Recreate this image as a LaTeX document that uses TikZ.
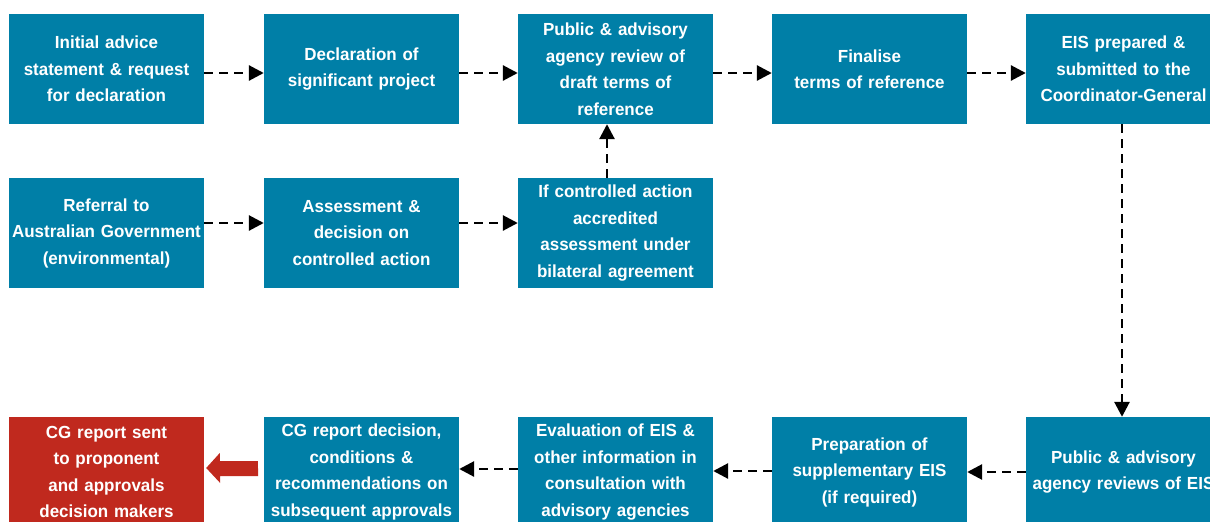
\documentclass[tikz,border=0pt]{standalone}
\usepackage{fontspec}
\setmainfont{Liberation Sans}[FakeStretch=0.97]
\usetikzlibrary{arrows.meta,calc}
\definecolor{boxblue}{RGB}{0,127,167}
\definecolor{boxred}{RGB}{192,41,30}
\begin{document}
\begin{tikzpicture}[x=1pt,y=-1pt,
  box/.style={fill=boxblue, minimum width=195pt, minimum height=110pt, inner sep=0pt,
    text width=195pt, align=center, text=white,
    font=\bfseries\fontsize{17.5}{26.5}\selectfont},
  flow/.style={line width=2.8pt, dash pattern=on 9pt off 6pt,
    -{Triangle[length=15pt,width=15pt]}, black}
]
\useasboundingbox (0,0) rectangle (1210,522);
% row 1
\node[box] (a1) at (106.5,69) {Initial advice\\statement \& request\\for declaration};
\node[box] (a2) at (361.5,69) {Declaration of\\significant project};
\node[box] (a3) at (615.5,69) {Public \& advisory\\agency review of\\draft terms of\\reference};
\node[box] (a4) at (869.5,69) {Finalise\\terms of reference};
\node[box] (a5) at (1123.5,69) {EIS prepared \&\\submitted to the\\Coordinator-General};
% row 2
\node[box] (b1) at (106.5,233) {Referral to\\Australian Government\\(environmental)};
\node[box] (b2) at (361.5,233) {Assessment \&\\decision on\\controlled action};
\node[box] (b3) at (615.5,233) {If controlled action\\accredited\\assessment under\\bilateral agreement};
% row 3
\node[box, fill=boxred] (c1) at (106.5,472) {CG report sent\\to proponent\\and approvals\\decision makers};
\node[box] (c2) at (361.5,472) {CG report decision,\\conditions \&\\recommendations on\\subsequent approvals};
\node[box] (c3) at (615.5,472) {Evaluation of EIS \&\\other information in\\consultation with\\advisory agencies};
\node[box] (c4) at (869.5,472) {Preparation of\\supplementary EIS\\(if required)};
\node[box] (c5) at (1123.5,472) {Public \& advisory\\agency reviews of EIS};
% row 1 arrows
\draw[flow] ([yshift=-4pt]a1.east) -- ([yshift=-4pt]a2.west);
\draw[flow] ([yshift=-4pt]a2.east) -- ([yshift=-4pt]a3.west);
\draw[flow] ([yshift=-4pt]a3.east) -- ([yshift=-4pt]a4.west);
\draw[flow] ([yshift=-4pt]a4.east) -- ([yshift=-4pt]a5.west);
% row 2 arrows
\draw[flow] ([yshift=10pt]b1.east) -- ([yshift=10pt]b2.west);
\draw[flow] ([yshift=10pt]b2.east) -- ([yshift=10pt]b3.west);
\draw[flow] ([xshift=-8.5pt]b3.north) -- ([xshift=-8.5pt]a3.south);
% right column
\draw[flow] ([xshift=-1.5pt]a5.south) -- ([xshift=-1.5pt]c5.north);
% row 3 arrows
\draw[flow] (c5.west) -- (c4.east);
\draw[flow] ([yshift=1pt]c4.west) -- ([yshift=1pt]c3.east);
\draw[flow] ([yshift=3pt]c3.west) -- ([yshift=3pt]c2.east);
% red block arrow
\fill[boxred] ($(c2.west)+(-6,-11)$) -- ++(-38,0) -- ++(0,-8)
  -- ($(c1.east)+(2,-4)$) -- ++(14,15) -- ++(0,-7) -- ++(38,0) -- cycle;
\end{tikzpicture}
\end{document}
